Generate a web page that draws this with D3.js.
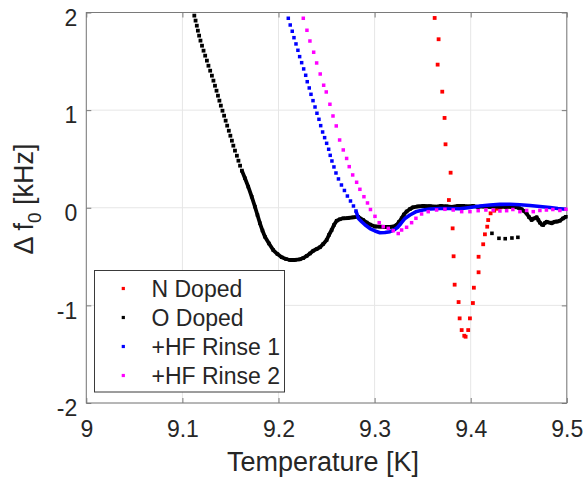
<!DOCTYPE html>
<html><head><meta charset="utf-8">
<script src="https://cdn.jsdelivr.net/npm/d3@7"></script>
<style>
body{margin:0;background:#fff}
svg{display:block}
text{font-family:"Liberation Sans",Arial,Helvetica,sans-serif;fill:#262626}
</style>
</head><body>
<svg id="chart" width="585" height="484"></svg>
<script>
// ---------- data ----------
const xTickValues = [9, 9.1, 9.2, 9.3, 9.4, 9.5];
const yTickValues = [-2, -1, 0, 1, 2];
const seriesNames = ["N Doped", "O Doped", "+HF Rinse 1", "+HF Rinse 2"];
const seriesColors = ["#ff0000", "#000000", "#0000ff", "#ff00ff"];

// N Doped (sparse markers)
const nDoped = [
  [9.3625,1.944],[9.3666,1.726],[9.3656,1.466],[9.3704,1.189],[9.3728,0.920],[9.3738,0.650],
  [9.3791,0.359],[9.3773,0.079],[9.3812,-0.211],[9.3822,-0.497],[9.3833,-0.788],[9.3874,-0.966],
  [9.3885,-1.133],[9.3906,-1.253],[9.3933,-1.311],[9.3947,-1.321],[9.3974,-1.253],[9.3992,-1.133],
  [9.4023,-0.976],[9.4033,-0.819],[9.4082,-0.661],[9.4082,-0.502],[9.4130,-0.374],[9.4148,-0.272],
  [9.4172,-0.194],[9.4182,-0.126],[9.4207,-0.057],[9.4245,-0.030],[9.4280,-0.010],[9.4314,0.005],
  [9.4356,0.011],[9.4408,0.011],[9.4460,0.008]
];

// O Doped: steep sparse part, dense part, and short second branch
const oDopedSparse = [
  [9.1124,1.968],[9.1137,1.917],[9.1150,1.865],[9.1161,1.814],[9.1174,1.763],[9.1188,1.712],
  [9.1204,1.660],[9.1220,1.609],[9.1237,1.558],[9.1255,1.507],[9.1271,1.455],[9.1289,1.404],
  [9.1307,1.353],[9.1323,1.302],[9.1339,1.250],[9.1355,1.199],[9.1370,1.148],[9.1385,1.097],
  [9.1400,1.046],[9.1417,0.994],[9.1434,0.943],[9.1450,0.892],[9.1466,0.841],[9.1483,0.789],
  [9.1499,0.738],[9.1515,0.687],[9.1530,0.636],[9.1547,0.585],[9.1567,0.533],[9.1583,0.482],
  [9.1600,0.431],[9.1619,0.380]
];
const oDopedDense = [
  [9.1651,0.302],[9.1685,0.216],[9.1721,0.113],[9.1755,0.011],[9.1781,-0.074],[9.1807,-0.159],
  [9.1833,-0.233],[9.1859,-0.297],[9.1901,-0.366],[9.1945,-0.433],[9.1989,-0.474],[9.2033,-0.507],
  [9.2078,-0.525],[9.2119,-0.535],[9.2171,-0.535],[9.2223,-0.528],[9.2258,-0.515],[9.2293,-0.494],
  [9.2327,-0.469],[9.2362,-0.440],[9.2397,-0.423],[9.2431,-0.405],[9.2466,-0.371],[9.2501,-0.330],
  [9.2525,-0.279],[9.2553,-0.228],[9.2577,-0.177],[9.2605,-0.133],[9.2639,-0.118],[9.2674,-0.108],
  [9.2723,-0.105],[9.2778,-0.098],[9.2830,-0.092],[9.2882,-0.126],[9.2917,-0.151],[9.2952,-0.172],
  [9.3004,-0.192],[9.3056,-0.194],[9.3108,-0.197],[9.3160,-0.197],[9.3201,-0.192],[9.3229,-0.177],
  [9.3253,-0.146],[9.3281,-0.108],[9.3305,-0.069],[9.3333,-0.038],[9.3368,-0.013],[9.3402,0.005],
  [9.3451,0.013],[9.3506,0.018],[9.3576,0.016],[9.3645,0.011],[9.3690,0.018],[9.3749,0.015],
  [9.3805,0.010],[9.3867,0.018],[9.3922,0.020],[9.3971,0.013],[9.4026,0.018],[9.4075,0.008],
  [9.4138,0.013],[9.4200,0.008],[9.4252,0.013],[9.4304,0.011],[9.4366,0.008],[9.4429,0.008],
  [9.4478,0.005],[9.4502,-0.003],[9.4530,-0.016],[9.4554,-0.033],[9.4582,-0.059],[9.4606,-0.095],
  [9.4634,-0.126],[9.4658,-0.110],[9.4686,-0.098],[9.4704,-0.126],[9.4720,-0.153],[9.4741,-0.172],
  [9.4754,-0.177],[9.4772,-0.156],[9.4790,-0.143],[9.4814,-0.151],[9.4842,-0.159],[9.4855,-0.151],
  [9.4876,-0.143],[9.4902,-0.141],[9.4928,-0.133],[9.4959,-0.110],[9.4991,-0.092]
];
const oDopedBranch = [
  [9.4221,-0.262],[9.4294,-0.313],[9.4359,-0.317],[9.4429,-0.310],[9.4491,-0.303]
];

// +HF Rinse 1: steep sparse part, then dense part
const hf1Sparse = [
  [9.2102,1.941],[9.2122,1.872],[9.2143,1.808],[9.2161,1.742],[9.2182,1.678],[9.2202,1.613],
  [9.2220,1.548],[9.2241,1.486],[9.2262,1.422],[9.2283,1.357],[9.2299,1.291],[9.2320,1.227],
  [9.2338,1.162],[9.2359,1.097],[9.2380,1.032],[9.2400,0.968],[9.2421,0.906],[9.2439,0.841],
  [9.2459,0.776],[9.2480,0.718],[9.2501,0.660],[9.2522,0.599],[9.2538,0.537],[9.2556,0.479],
  [9.2577,0.418],[9.2598,0.356],[9.2624,0.295],[9.2655,0.233],[9.2686,0.177],[9.2717,0.120],
  [9.2749,0.069],[9.2780,0.018],[9.2806,-0.033]
];
const hf1Dense = [
  [9.2832,-0.110],[9.2868,-0.146],[9.2910,-0.182],[9.2952,-0.213],[9.3004,-0.238],[9.3056,-0.256],
  [9.3108,-0.254],[9.3160,-0.245],[9.3201,-0.228],[9.3238,-0.202],[9.3274,-0.161],[9.3316,-0.110],
  [9.3368,-0.074],[9.3437,-0.038],[9.3503,-0.023],[9.3576,-0.013],[9.3680,-0.008],[9.3784,-0.008],
  [9.3888,-0.010],[9.3992,0.003],[9.4096,0.018],[9.4200,0.028],[9.4304,0.035],[9.4408,0.036],
  [9.4512,0.030],[9.4616,0.023],[9.4720,0.013],[9.4824,0.003],[9.4907,-0.008],[9.4991,-0.016]
];

// +HF Rinse 2 (markers)
const hf2 = [
  [9.2258,1.941],[9.2296,1.818],[9.2327,1.708],[9.2366,1.593],[9.2397,1.483],[9.2434,1.370],
  [9.2470,1.255],[9.2497,1.186],[9.2535,1.060],[9.2567,0.940],[9.2601,0.838],[9.2636,0.694],
  [9.2674,0.592],[9.2709,0.505],[9.2736,0.421],[9.2772,0.336],[9.2813,0.261],[9.2847,0.189],
  [9.2889,0.113],[9.2926,0.049],[9.2957,-0.018],[9.3004,-0.088],[9.3048,-0.153],[9.3090,-0.194],
  [9.3142,-0.211],[9.3194,-0.235],[9.3246,-0.264],[9.3281,-0.228],[9.3333,-0.200],[9.3385,-0.153],
  [9.3430,-0.108],[9.3489,-0.064],[9.3558,-0.040],[9.3645,-0.023],[9.3732,-0.016],[9.3818,-0.023],
  [9.3906,-0.040],[9.3992,-0.040],[9.4078,-0.030],[9.4158,-0.023],[9.4234,-0.023],[9.4304,-0.033],
  [9.4374,-0.030],[9.4439,-0.018],[9.4512,-0.040],[9.4582,-0.028],[9.4651,-0.040],[9.4720,-0.028],
  [9.4788,-0.023],[9.4855,-0.018],[9.4928,-0.028],[9.4991,-0.016]
];

// ---------- layout ----------
const plot = {left: 86.3, right: 566.8, top: 12.5, bottom: 403};
const axisColor = "#7a7a7a", gridColor = "#e6e6e6";

const svg = d3.select("#chart");
const x = d3.scaleLinear().domain([9, 9.5]).range([plot.left, plot.right]);
const y = d3.scaleLinear().domain([-2, 2]).range([plot.bottom, plot.top]);

// grid
const g = svg.append("g");
g.selectAll(".gx").data(xTickValues).enter().append("line")
  .attr("x1", d => x(d)).attr("x2", d => x(d)).attr("y1", plot.top).attr("y2", plot.bottom)
  .attr("stroke", gridColor).attr("stroke-width", 1);
g.selectAll(".gy").data(yTickValues).enter().append("line")
  .attr("y1", d => y(d)).attr("y2", d => y(d)).attr("x1", plot.left).attr("x2", plot.right)
  .attr("stroke", gridColor).attr("stroke-width", 1);

// axes via d3 axis (ticks inward)
const fmt = d => String(d);
const xAxisB = d3.axisBottom(x).tickValues(xTickValues).tickFormat(fmt).tickSizeInner(-5).tickSizeOuter(0).tickPadding(14);
const xAxisT = d3.axisTop(x).tickValues(xTickValues).tickFormat("").tickSizeInner(-5).tickSizeOuter(0);
const yAxisL = d3.axisLeft(y).tickValues(yTickValues).tickFormat(fmt).tickSizeInner(-5).tickSizeOuter(0).tickPadding(14);
const yAxisR = d3.axisRight(y).tickValues(yTickValues).tickFormat("").tickSizeInner(-5).tickSizeOuter(0);

function styleAxis(sel){
  sel.select(".domain").remove();
  sel.selectAll(".tick line").attr("stroke", axisColor);
  sel.selectAll(".tick text").attr("fill", "#262626").style("font-size", "23px")
     .style("font-family", '"Liberation Sans", Arial, sans-serif');
}
const gxb = svg.append("g").attr("transform", `translate(0,${plot.bottom})`).call(xAxisB).call(styleAxis);
gxb.selectAll(".tick text").attr("dy", "0.71em").attr("y", 18);
svg.append("g").attr("transform", `translate(0,${plot.top})`).call(xAxisT).call(styleAxis);
const gyl = svg.append("g").attr("transform", `translate(${plot.left},0)`).call(yAxisL).call(styleAxis);
gyl.selectAll(".tick text").attr("dy", "0.55em").attr("x", -9);
svg.append("g").attr("transform", `translate(${plot.right},0)`).call(yAxisR).call(styleAxis);

// box
svg.append("rect").attr("x", plot.left).attr("y", plot.top)
  .attr("width", plot.right - plot.left).attr("height", plot.bottom - plot.top)
  .attr("fill", "none").attr("stroke", axisColor).attr("stroke-width", 1);

// data
svg.append("defs").append("clipPath").attr("id", "clip")
  .append("rect").attr("x", plot.left).attr("y", plot.top - 3)
  .attr("width", plot.right - plot.left + 2).attr("height", plot.bottom - plot.top + 3);
const dg = svg.append("g").attr("clip-path", "url(#clip)");
const line = d3.line().x(d => x(d[0])).y(d => y(d[1])).curve(d3.curveLinear);

function markers(data, color, size){
  dg.append("g").selectAll("rect").data(data).enter().append("rect")
    .attr("x", d => x(d[0]) - size/2).attr("y", d => y(d[1]) - size/2)
    .attr("width", size).attr("height", size).attr("fill", color);
}
function thick(data, color, w){
  dg.append("path").datum(data).attr("d", line).attr("fill", "none")
    .attr("stroke", color).attr("stroke-width", w).attr("stroke-linejoin", "round");
}

// N Doped
markers(nDoped, seriesColors[0], 3.8);
// O Doped
markers(oDopedSparse, seriesColors[1], 3.8);
thick([oDopedSparse[oDopedSparse.length-1]].concat(oDopedDense), seriesColors[1], 3.8);
markers(oDopedDense, seriesColors[1], 3.5);
markers(oDopedBranch, seriesColors[1], 3.6);
// +HF Rinse 1
markers(hf1Sparse, seriesColors[2], 3.5);
thick([hf1Sparse[hf1Sparse.length-1]].concat(hf1Dense), seriesColors[2], 3.6);
// +HF Rinse 2
markers(hf2, seriesColors[3], 3.5);

// axis labels
svg.append("text").attr("x", 323).attr("y", 471).attr("text-anchor", "middle")
  .style("font-size", "27px").text("Temperature [K]");
const yl = svg.append("text").attr("transform", "translate(33,199) rotate(-90)")
  .attr("text-anchor", "middle").style("font-size", "27px");
yl.append("tspan").text("Δ f");
yl.append("tspan").attr("dy", 8).style("font-size", "19px").text("0");
yl.append("tspan").attr("dy", -8).text(" [kHz]");

// legend
const lg = svg.append("g");
lg.append("rect").attr("x", 94.5).attr("y", 270.5).attr("width", 190).attr("height", 121.5)
  .attr("fill", "#fff").attr("stroke", "#3a3a3a").attr("stroke-width", 1);
seriesNames.forEach((name, i) => {
  const cy = 288.5 + i * 29;
  lg.append("rect").attr("x", 123.3 - 1.6).attr("y", cy - 1.6).attr("width", 3.2).attr("height", 3.2)
    .attr("fill", seriesColors[i]);
  lg.append("text").attr("x", 151.5).attr("y", cy + 8.2).style("font-size", "23px").text(name);
});
</script>
</body></html>
